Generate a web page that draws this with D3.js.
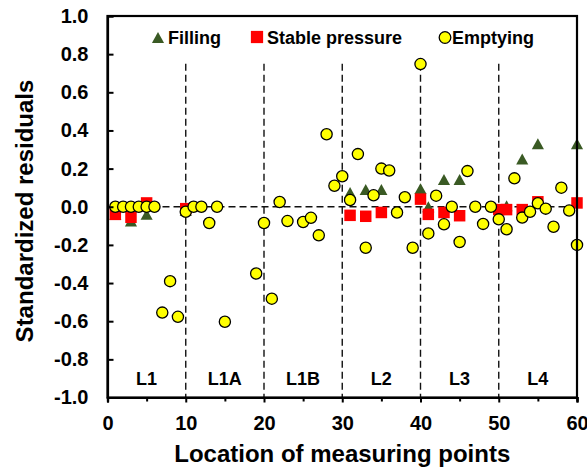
<!DOCTYPE html>
<html>
<head>
<meta charset="utf-8">
<script src="https://cdn.jsdelivr.net/npm/d3@7"></script>
<style>
  body { margin: 0; background: #ffffff; }
  svg text { font-family: "Liberation Sans", Arial, sans-serif; font-weight: bold; fill: #000; }
</style>
</head>
<body>
<svg id="chart" width="587" height="470"></svg>
<script>
// Standardized residuals per measuring point, by operating condition
const fillingLoc = [1, 3, 5, 10, 31, 33, 35, 40, 41, 43, 45, 51, 53, 55, 60];
const fillingVal = [-0.04, -0.075, -0.04, -0.02, 0.075, 0.09, 0.09, 0.095, 0.0, 0.143, 0.143, 0.005, 0.25, 0.33, 0.33];

const stableLoc = [1, 3, 5, 10, 31, 33, 35, 40, 41, 43, 45, 50, 51, 53, 55, 60];
const stableVal = [-0.04, -0.055, 0.02, -0.01, -0.045, -0.05, -0.03, 0.04, -0.04, -0.03, -0.047, -0.015, -0.015, -0.015, 0.026, 0.02];

const emptyingLoc = [1, 2, 3, 4, 5, 6, 7, 8, 9, 10, 11, 12, 13, 14, 15, 19, 20, 21, 22, 23, 25, 26, 27, 28, 29, 30,
  31, 32, 33, 34, 35, 36, 37, 38, 39, 40, 41, 42, 43, 44, 45, 46, 47, 48, 49, 50,
  51, 52, 53, 54, 55, 56, 57, 58, 59, 60];
const emptyingVal = [0.0, 0.0, 0.0, 0.0, 0.0, 0.0, -0.555, -0.39, -0.577, -0.026, 0.0, 0.0, -0.085, 0.0, -0.603,
  -0.35, -0.085, -0.482, 0.025, -0.075, -0.08, -0.058, -0.15, 0.38, 0.11, 0.16,
  0.035, 0.276, -0.215, 0.06, 0.2, 0.19, -0.03, 0.05, -0.215, 0.748, -0.14, 0.058, -0.092, 0.0, -0.185, 0.187, 0.0, -0.09, 0.0, -0.066,
  -0.118, 0.149, -0.057, -0.026, 0.018, -0.01, -0.105, 0.1, -0.02, -0.2];

const xTicks = [0, 10, 20, 30, 40, 50, 60];
const xMinorTicks = [5, 15, 25, 35, 45, 55];
const yTicks = [-1.0, -0.8, -0.6, -0.4, -0.2, 0.0, 0.2, 0.4, 0.6, 0.8, 1.0];
const sectionBounds = [10, 20, 30, 40, 50];
const sectionNames = ["L1", "L1A", "L1B", "L2", "L3", "L4"];
const sectionMids = [5, 15, 25, 35, 45, 55];
const seriesNames = ["Filling", "Stable pressure", "Emptying"];

const svg = d3.select("#chart");
const plotLeft = 107.5, plotRight = 577, plotTop = 16, plotBottom = 397.5;

const x = d3.scaleLinear().domain([0, 60]).range([plotLeft, plotRight]);
const y = d3.scaleLinear().domain([-1, 1]).range([plotBottom, plotTop]);

// triangle centred on its bounding box
const triangleBox = {
  draw(ctx, size) {
    const w = Math.sqrt(size * 2.3), h = w * 0.9;
    ctx.moveTo(0, -h / 2);
    ctx.lineTo(w / 2, h / 2);
    ctx.lineTo(-w / 2, h / 2);
    ctx.closePath();
  }
};

const colFill = "#3a5a24", colStable = "#ff0000", colEmpty = "#ffff00";

// section separators and zero line
svg.append("g").selectAll("line").data(sectionBounds).join("line")
  .attr("x1", d => x(d)).attr("x2", d => x(d))
  .attr("y1", y(0.75)).attr("y2", y(-1))
  .attr("stroke", "#111").attr("stroke-width", 1.4).attr("stroke-dasharray", "7,4");

svg.append("line")
  .attr("x1", x(0)).attr("x2", x(60)).attr("y1", y(0)).attr("y2", y(0))
  .attr("stroke", "#111").attr("stroke-width", 1.4).attr("stroke-dasharray", "7,4");

// section labels
svg.append("g").selectAll("text").data(sectionNames).join("text")
  .attr("x", (d, i) => x(sectionMids[i])).attr("y", 385)
  .attr("text-anchor", "middle").style("font-size", "18px")
  .text(d => d);

// series
const plot = svg.append("g");
plot.selectAll("path.fill").data(fillingLoc).join("path").attr("class", "fill")
  .attr("transform", (d, i) => `translate(${x(d)},${y(fillingVal[i])})`)
  .attr("d", d3.symbol().type(triangleBox).size(64))
  .attr("fill", colFill);

plot.selectAll("path.stable").data(stableLoc).join("path").attr("class", "stable")
  .attr("transform", (d, i) => `translate(${x(d)},${y(stableVal[i])})`)
  .attr("d", d3.symbol().type(d3.symbolSquare).size(132))
  .attr("fill", colStable);

plot.selectAll("circle.empty").data(emptyingLoc).join("circle").attr("class", "empty")
  .attr("cx", d => x(d)).attr("cy", (d, i) => y(emptyingVal[i]))
  .attr("r", 5.6)
  .attr("fill", colEmpty).attr("stroke", "#000").attr("stroke-width", 1.3);

// frame
svg.append("rect")
  .attr("x", plotLeft).attr("y", plotTop).attr("width", plotRight - plotLeft).attr("height", plotBottom - plotTop)
  .attr("fill", "none").attr("stroke", "#000").attr("stroke-width", 2.2);

// axes
const xAxis = svg.append("g").attr("transform", `translate(0,${plotBottom})`)
  .call(d3.axisBottom(x).tickValues(xTicks).tickSize(5).tickPadding(13).tickFormat(d3.format("d")));
const xMinor = svg.append("g").attr("transform", `translate(0,${plotBottom})`)
  .call(d3.axisBottom(x).tickValues(xMinorTicks).tickSize(4).tickFormat(""));
const yAxis = svg.append("g").attr("transform", `translate(${plotLeft},0)`)
  .call(d3.axisLeft(y).tickValues(yTicks).tickSize(-6).tickPadding(19).tickFormat(d3.format(".1f")));

[xAxis, xMinor, yAxis].forEach(g => {
  g.select(".domain").attr("stroke", "#000").attr("stroke-width", 2.2);
  g.selectAll(".tick line").attr("stroke", "#000").attr("stroke-width", 2);
  g.selectAll(".tick text").style("font-size", "20px")
    .style("font-family", '"Liberation Sans", Arial, sans-serif').style("font-weight", "bold").attr("fill", "#000");
});
yAxis.selectAll(".tick text").text(d => d3.format(".1f")(d).replace("\u2212", "-"));

// axis titles
svg.append("text")
  .attr("x", (plotLeft + plotRight) / 2).attr("y", 462)
  .attr("text-anchor", "middle").style("font-size", "24px")
  .text("Location of measuring points");

svg.append("text")
  .attr("transform", "translate(33,211) rotate(-90)")
  .attr("text-anchor", "middle").style("font-size", "24px")
  .text("Standardized residuals");

// legend
const legend = svg.append("g");
const lgSym = [158, 257, 445];
const lgText = [168, 267, 452];
legend.append("path").attr("transform", `translate(${lgSym[0]},37.5)`)
  .attr("d", d3.symbol().type(triangleBox).size(64)).attr("fill", colFill);
legend.append("path").attr("transform", `translate(${lgSym[1]},37)`)
  .attr("d", d3.symbol().type(d3.symbolSquare).size(150)).attr("fill", colStable);
legend.append("circle").attr("cx", lgSym[2]).attr("cy", 37.5).attr("r", 5.8)
  .attr("fill", colEmpty).attr("stroke", "#000").attr("stroke-width", 1.3);
legend.selectAll("text").data(seriesNames).join("text")
  .attr("x", (d, i) => lgText[i]).attr("y", 43.5)
  .style("font-size", "18px").text(d => d);
</script>
</body>
</html>
